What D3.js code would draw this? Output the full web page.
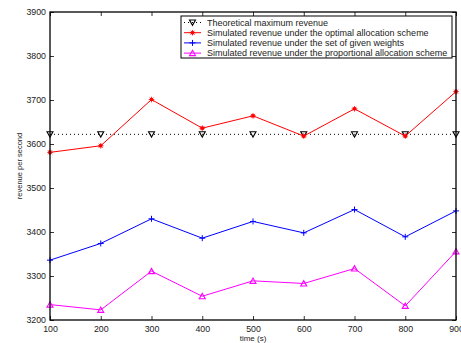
<!DOCTYPE html>
<html>
<head>
<meta charset="utf-8">
<script src="https://cdn.jsdelivr.net/npm/d3@7"></script>
<style>
  html, body { margin: 0; padding: 0; background: #fff; }
  svg { display: block; font-family: "Liberation Sans", Arial, Helvetica, sans-serif; }
</style>
</head>
<body>
<svg id="chart" width="461" height="343"></svg>
<script>
// Time points (s)
const times = [100, 200, 300, 400, 500, 600, 700, 800, 900];
// Revenue per second for each scheme
const theoretical = [3622, 3622, 3622, 3622, 3622, 3622, 3622, 3622, 3622];
const optimal = [3581, 3596, 3701, 3636, 3664, 3618, 3680, 3618, 3719];
const givenWeights = [3336, 3374, 3430, 3386, 3424, 3398, 3451, 3389, 3448];
const proportional = [3235, 3223, 3311, 3254, 3289, 3283, 3317, 3232, 3356];
// Axis ticks
const xTicks = [100, 200, 300, 400, 500, 600, 700, 800, 900];
const yTicks = [3200, 3300, 3400, 3500, 3600, 3700, 3800, 3900];
const seriesNames = [
  "Theoretical maximum revenue",
  "Simulated revenue under the optimal allocation scheme",
  "Simulated revenue under the set of given weights",
  "Simulated revenue under the proportional allocation scheme"
];

const svg = d3.select("#chart");
const L = 50, R = 456, T = 12, B = 320;
const x = d3.scaleLinear().domain([100, 900]).range([L, R]);
const y = d3.scaleLinear().domain([3200, 3900]).range([B, T]);

const series = [
  { name: seriesNames[0], values: theoretical, color: "#000", dash: "1,3", marker: "tridown" },
  { name: seriesNames[1], values: optimal, color: "#ff0000", dash: null, marker: "star" },
  { name: seriesNames[2], values: givenWeights, color: "#0000ff", dash: null, marker: "plus" },
  { name: seriesNames[3], values: proportional, color: "#ff00ff", dash: null, marker: "triup" }
];

function drawMarker(g, type, cx, cy, color) {
  if (type === "tridown") {
    g.append("path").attr("d", `M${cx-3},${cy-2.5}L${cx+3},${cy-2.5}L${cx},${cy+2.8}Z`)
      .attr("fill", "none").attr("stroke", color).attr("stroke-width", 1.1);
  } else if (type === "triup") {
    g.append("path").attr("d", `M${cx-3},${cy+2.5}L${cx+3},${cy+2.5}L${cx},${cy-2.8}Z`)
      .attr("fill", "none").attr("stroke", color).attr("stroke-width", 1.1);
  } else if (type === "plus") {
    g.append("path").attr("d", `M${cx-3},${cy}L${cx+3},${cy}M${cx},${cy-3}L${cx},${cy+3}`)
      .attr("stroke", color).attr("stroke-width", 1);
  } else if (type === "star") {
    g.append("circle").attr("cx", cx).attr("cy", cy).attr("r", 1.8).attr("fill", color);
    g.append("path").attr("d", `M${cx-2.8},${cy}L${cx+2.8},${cy}M${cx},${cy-2.8}L${cx},${cy+2.8}M${cx-2},${cy-2}L${cx+2},${cy+2}M${cx-2},${cy+2}L${cx+2},${cy-2}`)
      .attr("stroke", color).attr("stroke-width", 0.8);
  }
}

// Axes with inward ticks on all four sides
const tickLen = 4;
const axisG = svg.append("g").attr("class", "axes");
const xAxisB = d3.axisBottom(x).tickValues(xTicks).tickSize(-tickLen).tickPadding(6).tickFormat(d3.format("d"));
const xAxisT = d3.axisTop(x).tickValues(xTicks).tickSize(-tickLen).tickFormat("");
const yAxisL = d3.axisLeft(y).tickValues(yTicks).tickSize(-tickLen).tickPadding(4).tickFormat(d3.format("d"));
const yAxisR = d3.axisRight(y).tickValues(yTicks).tickSize(-tickLen).tickFormat("");

function styleAxis(g) {
  g.select(".domain").remove();
  g.selectAll(".tick line").attr("stroke", "#000").attr("stroke-width", 0.8);
  g.selectAll(".tick text").attr("fill", "#222").style("font-size", "8.8px").style("font-family", "'Liberation Sans', Arial, sans-serif");
}
axisG.append("g").attr("transform", `translate(0,${B})`).call(xAxisB).call(styleAxis);
axisG.append("g").attr("transform", `translate(0,${T})`).call(xAxisT).call(styleAxis);
axisG.append("g").attr("transform", `translate(${L},0)`).call(yAxisL).call(styleAxis);
axisG.append("g").attr("transform", `translate(${R},0)`).call(yAxisR).call(styleAxis);

// Series lines and markers
const line = d3.line().x((d, i) => x(times[i])).y(d => y(d));
series.forEach(s => {
  const g = svg.append("g");
  g.append("path").datum(s.values).attr("d", line)
    .attr("fill", "none").attr("stroke", s.color).attr("stroke-width", 1)
    .attr("stroke-dasharray", s.dash);
  s.values.forEach((v, i) => drawMarker(g, s.marker, x(times[i]), y(v), s.color));
});

// Plot frame
svg.append("rect").attr("x", L).attr("y", T).attr("width", R - L).attr("height", B - T)
  .attr("fill", "none").attr("stroke", "#000").attr("stroke-width", 1.3);

// Legend
const lg = svg.append("g");
lg.append("rect").attr("x", 181).attr("y", 16).attr("width", 271).attr("height", 42)
  .attr("fill", "#fff").attr("stroke", "#000").attr("stroke-width", 1);
series.forEach((s, i) => {
  const cy = 22.5 + i * 10.2;
  lg.append("line").attr("x1", 184).attr("x2", 201).attr("y1", cy).attr("y2", cy)
    .attr("stroke", s.color).attr("stroke-width", 1).attr("stroke-dasharray", s.dash);
  drawMarker(lg, s.marker, 192.5, cy, s.color);
  lg.append("text").attr("x", 207).attr("y", cy + 3.2).text(s.name)
    .attr("fill", "#222").style("font-size", "9px");
});

// Axis titles
svg.append("text").attr("x", (L + R) / 2).attr("y", 341).attr("text-anchor", "middle")
  .attr("fill", "#222").style("font-size", "8px").text("time (s)");
svg.append("text").attr("transform", `translate(22,${(T + B) / 2}) rotate(-90)`)
  .attr("text-anchor", "middle").attr("fill", "#222").style("font-size", "7.5px").text("revenue per second");
</script>
</body>
</html>
